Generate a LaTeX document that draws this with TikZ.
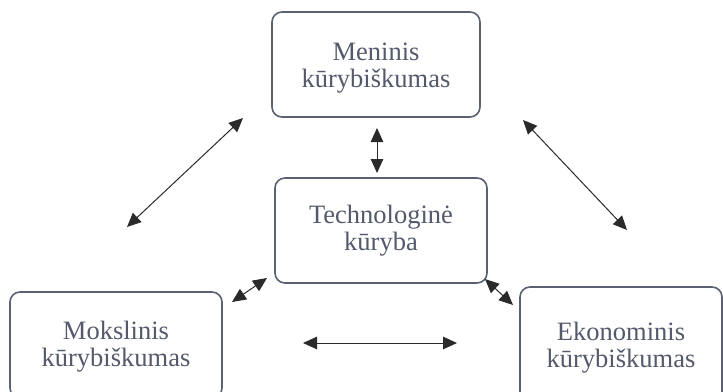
\documentclass[tikz,border=0pt]{standalone}
\usepackage{fontspec}
\setmainfont{Liberation Serif}
\usetikzlibrary{arrows.meta}
\definecolor{boxline}{HTML}{5B6172}
\definecolor{boxtext}{HTML}{545A6B}
\definecolor{arrowline}{HTML}{2A2A2A}
\tikzset{
  area/.style={draw=boxline, line width=1.6pt, rounded corners=10pt, fill=white},
  caption/.style={text=boxtext, align=center, inner sep=0pt,
    font=\fontsize{26.5}{27}\selectfont},
  link/.style={arrowline, line width=1pt,
    {Triangle[length=14pt,width=12.5pt]}-{Triangle[length=14pt,width=12.5pt]}}
}
\begin{document}
\begin{tikzpicture}[x=1pt,y=-1pt]
  \useasboundingbox (0,0) rectangle (723,391);
  \clip (0,0) rectangle (723,391);
  \fill[white] (0,0) rectangle (723,391);

  % the four creativity areas
  \node[area, minimum width=208pt, minimum height=105pt] (art) at (376,64.5) {};
  \node[caption] at ([yshift=-3.5pt]art.center) {Meninis\\kūrybiškumas};
  \node[area, minimum width=212pt, minimum height=105pt] (tech) at (381,230.5) {};
  \node[caption] at (tech.center) {Technologinė\\kūryba};
  \node[area, minimum width=212pt, minimum height=106pt] (sci) at (116,345) {};
  \node[caption] at ([yshift=-2pt]sci.center) {Mokslinis\\kūrybiškumas};
  \node[area, minimum width=202pt, minimum height=117pt] (eco) at (621,345.5) {};
  \node[caption] at ([yshift=-2pt]eco.center) {Ekonominis\\kūrybiškumas};

  % end points of the two-way links
  \coordinate (al1) at (127,227);  \coordinate (al2) at (243,118);
  \coordinate (ar1) at (523,120);  \coordinate (ar2) at (627,230);
  \coordinate (av1) at (377,128);  \coordinate (av2) at (377,173);
  \coordinate (sl1) at (232,302);  \coordinate (sl2) at (267,278);
  \coordinate (sr1) at (485,279);  \coordinate (sr2) at (513,305);
  \coordinate (h1)  at (303,343);  \coordinate (h2)  at (457,343);

  \draw[link] (al1) -- (al2);
  \draw[link] (ar1) -- (ar2);
  \draw[link] (av1) -- (av2);
  \draw[link] (sl1) -- (sl2);
  \draw[link] (sr1) -- (sr2);
  \draw[link] (h1) -- (h2);
\end{tikzpicture}
\end{document}
